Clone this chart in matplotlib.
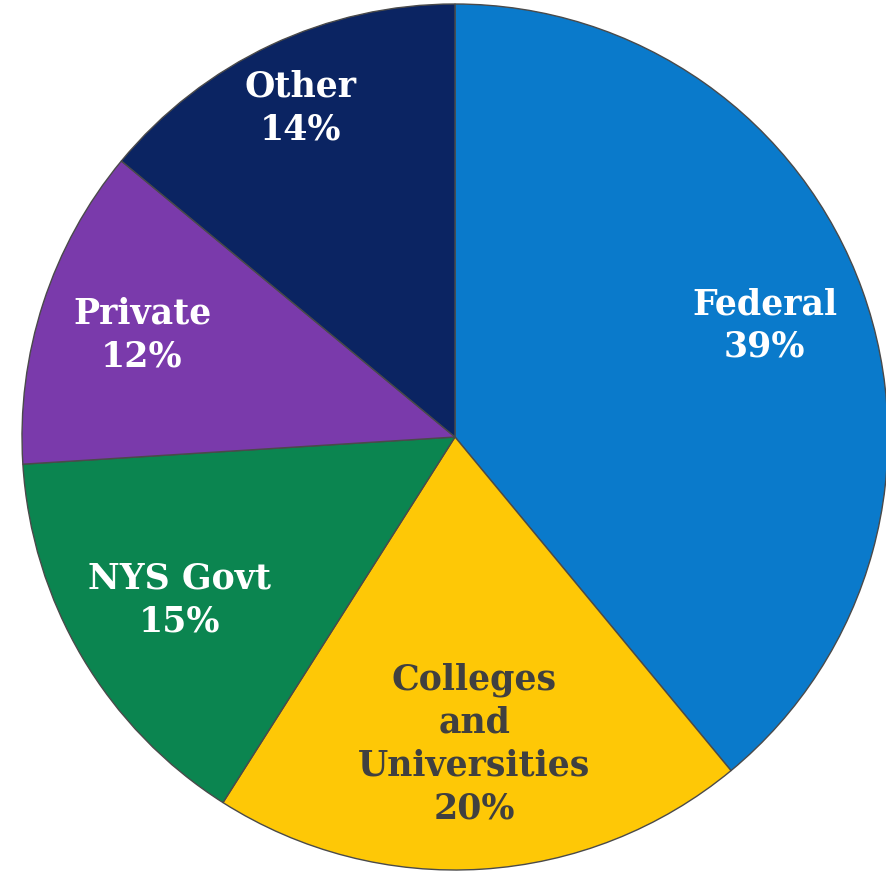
import numpy as np
import matplotlib
matplotlib.use("Agg")
import matplotlib.pyplot as plt

categories = ["Federal", "Colleges\nand\nUniversities", "NYS Govt", "Private", "Other"]
shares = [39, 20, 15, 12, 14]

colors = ["#0A7ACB", "#FEC806", "#0B8550", "#7A3AAB", "#0B2462"]
text_colors = ["white", "#404040", "white", "white", "white"]
label_r = [0.76, 0.71, 0.74, 0.76, 0.84]

W, H = 887, 873
cx, cy, R = 455, 437, 433

fig = plt.figure(figsize=(W / 100, H / 100), dpi=100)
ax = fig.add_axes([0, 0, 1, 1])

wedges, _ = ax.pie(shares, colors=colors, startangle=90, counterclock=False,
                   radius=1.0, center=(0, 0), frame=True,
                   wedgeprops=dict(edgecolor="#4a4a4a", linewidth=1.0))
ax.set_xlim(-cx / R, (W - cx) / R)
ax.set_ylim(-(H - cy) / R, cy / R)
ax.set_aspect("equal")
ax.axis("off")

for w, name, val, tc, r in zip(wedges, categories, shares, text_colors, label_r):
    ang = np.radians((w.theta1 + w.theta2) / 2)
    ax.text(r * np.cos(ang), r * np.sin(ang), f"{name}\n{val}%",
            ha="center", va="center", color=tc, fontsize=25,
            fontweight="bold", family="DejaVu Serif", linespacing=1.33)

fig.savefig("out.png", dpi=100)
